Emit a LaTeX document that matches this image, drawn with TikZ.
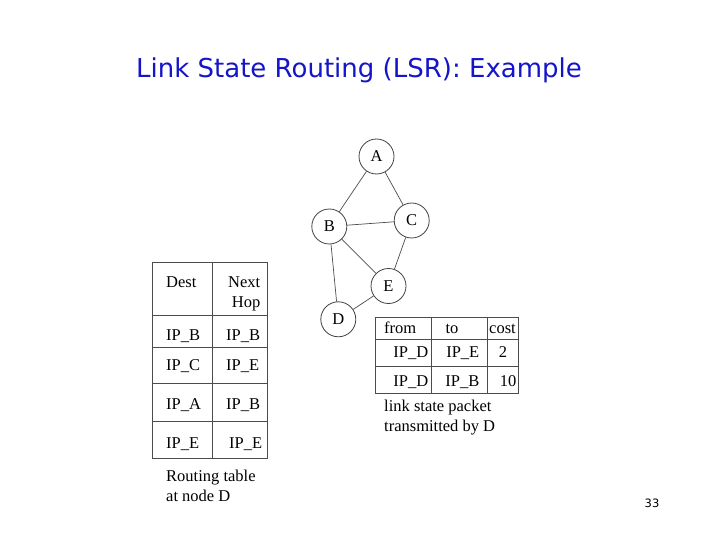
\documentclass[tikz,border=0pt]{standalone}
\usepackage{fontspec}
\setmainfont{Liberation Serif}
\newfontfamily\titlefont{DejaVu Sans}
\definecolor{titleblue}{RGB}{20,20,200}
\begin{document}
\begin{tikzpicture}[x=1pt,y=-1pt,
  rnode/.style={circle,draw=black!75,line width=0.8pt,minimum size=35pt,inner sep=0pt,font=\fontsize{16.5}{18}\selectfont},
  edge/.style={draw=black!70,line width=0.7pt},
  tbl/.style={draw=black!70,line width=0.8pt},
  txt/.style={inner sep=0pt,font=\fontsize{16.5}{19.5}\selectfont}]
\useasboundingbox (0,0) rectangle (720,540);
\node[font=\titlefont\fontsize{26}{30}\selectfont,text=titleblue,anchor=base] (title) at (359,78) {Link State Routing (LSR): Example};
\node[font=\titlefont\fontsize{11.5}{13}\selectfont] (pg) at (652,503) {33};
% graph
\node[rnode] (A) at (376.5,156.5) {A};
\node[rnode] (B) at (329.3,226.5) {B};
\node[rnode] (C) at (411.7,220.5) {C};
\node[rnode] (E) at (388.5,286) {E};
\node[rnode] (D) at (338.3,319.3) {D};
\draw[edge] (A) -- (B);
\draw[edge] (A) -- (C);
\draw[edge] (B) -- (C);
\draw[edge] (B) -- (E);
\draw[edge] (B) -- (D);
\draw[edge] (C) -- (E);
\draw[edge] (E) -- (D);
% routing table
\draw[tbl] (152,262.5) rectangle (267,458.5);
\draw[tbl] (212.5,262.5) -- (212.5,458.5);
\foreach \yy in {315,347.5,383.5,421.5} \draw[tbl] (152,\yy) -- (267,\yy);
\node[txt,anchor=base west] (dest) at (166,287) {Dest};
\node[txt,anchor=base east,align=right] (nh) at (260.5,307) {Next\hspace{2.5pt}\\Hop};
\node[txt,anchor=base west] (d1) at (166,340) {IP\_B};
\node[txt,anchor=base west] (h1) at (226,340) {IP\_B};
\node[txt,anchor=base west] (d2) at (166,370.5) {IP\_C};
\node[txt,anchor=base west] (h2) at (226,370.5) {IP\_E};
\node[txt,anchor=base west] (d3) at (166,409) {IP\_A};
\node[txt,anchor=base west] (h3) at (226,409) {IP\_B};
\node[txt,anchor=base west] (d4) at (166,448) {IP\_E};
\node[txt,anchor=base west] (h4) at (229,448) {IP\_E};
\node[txt,anchor=base west,align=left] (rt) at (166,501) {Routing table\\at node D};
% link state packet
\draw[tbl] (375.5,317.5) rectangle (518.5,393);
\draw[tbl] (431,317.5) -- (431,393);
\draw[tbl] (487.5,317.5) -- (487.5,393);
\draw[tbl] (375.5,339) -- (518.5,339);
\draw[tbl] (375.5,366.5) -- (518.5,366.5);
\node[txt,anchor=base west] (from) at (384,333) {from};
\node[txt,anchor=base] (to) at (452,333) {to};
\node[txt,anchor=base] (cost) at (502.5,333) {cost};
\node[txt,anchor=base east] (f1) at (428.5,357.5) {IP\_D};
\node[txt,anchor=base east] (t1) at (479.5,357.5) {IP\_E};
\node[txt,anchor=base] (c1) at (503,357.5) {2};
\node[txt,anchor=base east] (f2) at (428.5,386) {IP\_D};
\node[txt,anchor=base east] (t2) at (479.5,386) {IP\_B};
\node[txt,anchor=base east] (c2) at (516.5,386) {10};
\node[txt,anchor=base west,align=left] (lsp) at (384,431) {link state packet\\transmitted by D};
\end{tikzpicture}
\end{document}
